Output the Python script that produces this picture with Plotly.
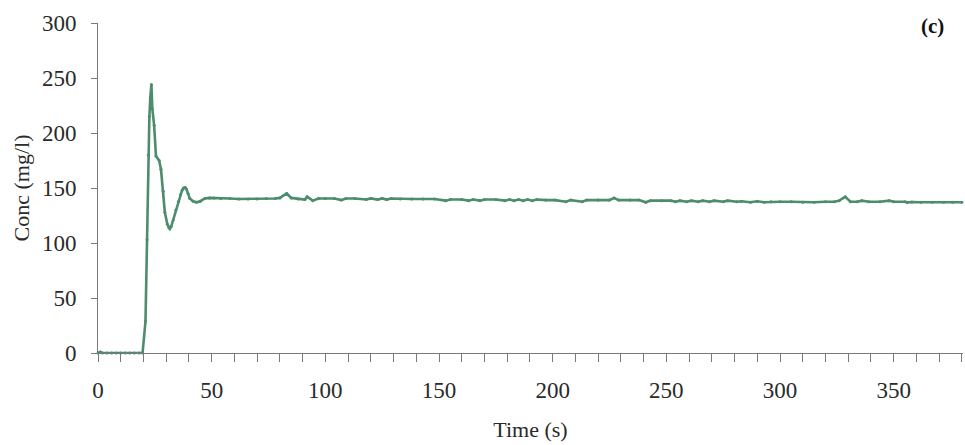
import plotly.graph_objects as go

# Concentration response at the outlet (mg/l) against elapsed time (s)
time_s = [
    0, 1, 2, 4, 6, 8, 10, 12, 14, 16, 18, 19.6,
    20.9, 21.6, 22.1, 22.6, 23.0, 23.5, 23.9, 24.7, 25.5, 26.9, 27.7,
    28.7, 29.4, 30.5, 31.1, 31.6, 32.2, 33.1, 34.2, 35.3, 36.3, 37.0, 37.6, 38.3, 38.9, 39.6,
    40.4, 41.8, 43.3, 45.0, 47.0, 49.0,
    51, 54, 58, 62, 66, 70, 74, 78, 80, 83, 85, 88, 91, 92, 94.5, 97,
    100, 104, 107, 109, 113, 118, 120, 123, 125, 127, 129, 133, 138,
    143, 148, 153, 155, 160, 163, 165, 168, 170, 175, 179, 181, 183,
    185, 187, 189, 191, 193, 197, 201, 205.8, 208, 213, 215, 220, 225,
    227, 229, 234, 238, 241, 243, 248, 252, 254, 256, 259, 261, 264,
    266, 269, 271, 275, 277, 281, 283, 287, 290, 293, 296, 300, 305,
    310, 315, 320, 324, 326, 328.7, 331, 334, 336, 339, 344, 348, 350,
    355, 356, 358, 362, 367, 372, 376, 380,
]
conc_mg_l = [
    0, 1, 0, 0, 0, 0, 0, 0, 0, 0, 0, 0,
    29, 103, 180, 215, 232, 244, 222, 207, 179, 175, 167,
    147, 128, 117, 114, 113, 115, 121, 130, 137.5, 144, 148, 150, 150.5, 149, 145,
    140.5, 138, 137, 138, 140.5, 141,
    141, 140.5, 140.5, 140, 140, 140, 140.5, 140.5, 141, 145, 141, 140, 139.5, 142, 138.5, 140.5,
    140.5, 140.5, 139, 140.5, 140.5, 139.5, 140.5, 139.5, 140.5, 139.5, 140.5, 140, 140,
    140, 140, 138.5, 139.5, 139.5, 138.5, 139.5, 138.5, 139.5, 139.5, 138.5, 139.5, 138.5,
    139.5, 138.5, 139.5, 138.5, 139.5, 139, 139, 137.5, 139, 137.5, 139, 139, 139,
    141, 139, 139, 139, 137, 138.5, 138.5, 138.5, 137.5, 138.5, 137.5, 138.5, 137.5,
    138.5, 137.5, 138.5, 137.5, 138.5, 137.5, 138, 137, 138, 137, 137.5, 137.5, 137.5,
    137, 137, 137.5, 137.5, 138.5, 142, 137.5, 137.5, 138.5, 137.5, 137.5, 138.5, 137.5,
    137.5, 136.8, 137.2, 137, 137, 137, 137, 137,
]

x_tick_vals = [0, 50, 100, 150, 200, 250, 300, 350]
y_tick_vals = [0, 50, 100, 150, 200, 250, 300]

line_green = "#4d8c6d"
axis_grey = "#7a7a7a"
text_color = "#2a2a2a"
serif = "Liberation Serif, Times New Roman, serif"

fig = go.Figure()
fig.add_trace(go.Scatter(
    x=time_s,
    y=conc_mg_l,
    mode="lines+markers",
    line=dict(color=line_green, width=2.6),
    marker=dict(color=line_green, size=3),
    cliponaxis=False,
    showlegend=False,
))

fig.update_layout(
    width=965,
    height=445,
    margin=dict(l=98, r=2, t=23, b=92),
    paper_bgcolor="white",
    plot_bgcolor="white",
    font=dict(family=serif, size=23, color=text_color),
)

fig.update_xaxes(
    range=[0, 380.5],
    tickvals=x_tick_vals,
    ticks="outside",
    ticklen=8,
    tickwidth=1,
    tickcolor=axis_grey,
    minor=dict(dtick=10, tick0=0, ticks="outside", ticklen=8,
               tickwidth=1, tickcolor=axis_grey),
    showline=True,
    linecolor=axis_grey,
    linewidth=1,
    showgrid=False,
    zeroline=False,
    ticklabelstandoff=8,
    tickfont=dict(family=serif, size=23, color=text_color),
    title=dict(text="Time (s)", font=dict(family=serif, size=22, color=text_color),
               standoff=20),
)

fig.update_yaxes(
    range=[0, 300],
    tickvals=y_tick_vals,
    ticks="outside",
    ticklen=6,
    tickwidth=1,
    tickcolor=axis_grey,
    showline=True,
    linecolor=axis_grey,
    linewidth=1,
    showgrid=False,
    zeroline=False,
    ticklabelstandoff=10,
    tickfont=dict(family=serif, size=23, color=text_color),
    title=dict(text="Conc (mg/l)", font=dict(family=serif, size=22, color=text_color),
               standoff=6),
)

fig.add_annotation(
    text="<b>(c)</b>",
    xref="paper", yref="paper",
    x=0.965, y=0.99,
    xanchor="center", yanchor="middle",
    showarrow=False,
    font=dict(family=serif, size=21, color="#111111"),
)

fig.write_html("out.html")
